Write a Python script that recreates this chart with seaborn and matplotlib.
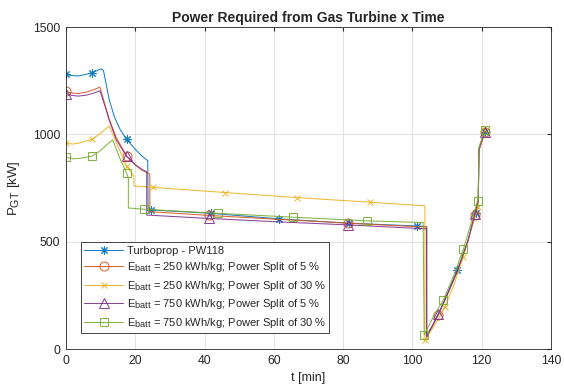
import numpy as np
import pandas as pd
import matplotlib
matplotlib.use("Agg")
import matplotlib.pyplot as plt
from matplotlib.lines import Line2D
import seaborn as sns

# pedici un po' piu' grandi, come in MATLAB
try:
    import matplotlib._mathtext as _mt
    _mt.SHRINK_FACTOR = 0.82
except Exception:
    pass

# --- DATI ---
# Turboprop - PW118
t_tp = [0, 1.5, 3.5, 5.5, 7.6, 9.0, 10.0, 10.8, 12.5, 14.0, 15.7, 17.5, 20.0, 22.0, 23.6, 23.7, 24.4,
        41.8, 61.6, 81.8, 101.2, 104.1, 104.1, 106, 108, 110, 113, 116, 118.3, 119.0, 119.2, 120.9]
p_tp = [1280, 1274, 1272, 1278, 1288, 1297, 1305, 1298, 1160, 1080, 1020, 977, 930, 898, 877, 652, 648,
        632, 606, 586, 573, 570, 65, 115, 180, 255, 368, 505, 634, 690, 930, 1012]
mk_tp = [0, 4, 11, 16, 17, 18, 19, 20, 26, 28, 31]

# E_batt = 250 kWh/kg, split 5 %
t_250_5 = [0, 1.5, 3.5, 6.0, 8.0, 9.8, 11.3, 12.5, 14.5, 17.5, 20.0, 22.0, 24.2, 24.2, 41.4, 61.6, 81.5,
           101.2, 104.1, 104.1, 107.5, 110, 113, 116, 118.0, 119.0, 119.2, 120.9]
p_250_5 = [1200, 1193, 1190, 1197, 1208, 1220, 1135, 1070, 985, 900, 858, 832, 815, 640, 622, 604, 586,
           570, 568, 58, 160, 250, 362, 500, 625, 688, 925, 1010]
mk_250_5 = [0, 9, 14, 16, 20, 24, 27]

# E_batt = 250 kWh/kg, split 30 %
t_250_30 = [0, 2.0, 4.0, 7.6, 10.0, 12.5, 13.5, 15.5, 17.5, 19.6, 19.6, 25.0, 45.9, 66.8, 87.7, 103.6,
            103.6, 107.5, 109.4, 112, 114.7, 117, 119.0, 119.2, 121.0]
p_250_30 = [958, 955, 960, 977, 1005, 1039, 1000, 925, 851, 806, 760, 753, 729, 705, 684, 667,
            40, 140, 197, 300, 430, 560, 660, 925, 1020]
mk_250_30 = [0, 3, 8, 11, 12, 13, 14, 16, 18, 20, 22, 24]

# E_batt = 750 kWh/kg, split 5 %
t_750_5 = [0, 1.5, 3.5, 6.0, 8.0, 9.8, 11.3, 12.5, 14.5, 17.5, 20.0, 22.0, 23.3, 23.3, 41.4, 61.6, 81.5,
           101.2, 104.1, 104.1, 107.5, 110, 113, 116, 118.0, 119.0, 119.2, 120.9]
p_750_5 = [1190, 1182, 1178, 1183, 1192, 1203, 1129, 1065, 975, 897, 858, 836, 826, 624, 608, 592, 578,
           562, 560, 55, 163, 252, 365, 502, 629, 690, 928, 1012]
mk_750_5 = [0, 9, 14, 16, 20, 24, 27]

# E_batt = 750 kWh/kg, split 30 %
t_750_30 = [0, 2.0, 4.0, 7.6, 10.0, 12.0, 13.5, 15.5, 17.5, 18.0, 18.0, 22.5, 44.0, 65.6, 87.0, 103.1,
            103.4, 106, 108.9, 112, 114.7, 117, 118.8, 119.0, 119.2, 120.9]
p_750_30 = [893, 886, 888, 899, 925, 955, 974, 890, 818, 797, 657, 651, 632, 614, 597, 589,
            65, 150, 228, 345, 464, 590, 691, 700, 940, 1020]
mk_750_30 = [0, 3, 8, 11, 12, 13, 14, 16, 18, 20, 22, 25]

labels = [
    "Turboprop - PW118",
    r"E$_{\rm batt}$ = 250 kWh/kg; Power Split of 5 %",
    r"E$_{\rm batt}$ = 250 kWh/kg; Power Split of 30 %",
    r"E$_{\rm batt}$ = 750 kWh/kg; Power Split of 5 %",
    r"E$_{\rm batt}$ = 750 kWh/kg; Power Split of 30 %",
]
x_ticks = [0, 20, 40, 60, 80, 100, 120, 140]
y_ticks = [0, 500, 1000, 1500]

# --- STILE ---
sns.set_style("whitegrid")
plt.rcParams["font.family"] = ["Liberation Sans", "DejaVu Sans"]
plt.rcParams["mathtext.fontset"] = "custom"
plt.rcParams["mathtext.rm"] = "Liberation Sans"
plt.rcParams["mathtext.it"] = "Liberation Sans:italic"

colors = ["#0072BD", "#D95319", "#EDB120", "#7E2F8E", "#77AC30"]
markers = [(8, 2, 0), "o", "x", "^", "s"]
msizes = [6, 6.5, 5, 6.5, 5.5]

series = [
    (t_tp, p_tp, mk_tp),
    (t_250_5, p_250_5, mk_250_5),
    (t_250_30, p_250_30, mk_250_30),
    (t_750_5, p_750_5, mk_750_5),
    (t_750_30, p_750_30, mk_750_30),
]

fig = plt.figure(figsize=(5.64, 3.88), dpi=100)
ax = fig.add_axes([66 / 564, 1 - 349 / 388, 485 / 564, 322 / 388])

handles = []
for i, (t, p, mk) in enumerate(series):
    df = pd.DataFrame({"t": t, "P": p})
    sns.lineplot(data=df, x="t", y="P", ax=ax, sort=False, estimator=None,
                 color=colors[i], linewidth=0.75, alpha=0.9, marker=markers[i], markevery=mk,
                 markersize=msizes[i], markerfacecolor="none", markeredgecolor=colors[i],
                 markeredgewidth=0.75)
    handles.append(Line2D([0], [0], color=colors[i], linewidth=0.75, alpha=0.9, marker=markers[i],
                          markersize=msizes[i], markerfacecolor="none",
                          markeredgecolor=colors[i], markeredgewidth=0.75))

ax.set_xlim(0, 140)
ax.set_ylim(0, 1500)
ax.set_xticks(x_ticks)
ax.set_yticks(y_ticks)
ax.tick_params(direction="in", length=3, labelsize=8.8, colors="#262626", pad=4,
               top=True, right=True, labeltop=False, labelright=False)
ax.grid(True, color="#e2e2e2", linewidth=0.7)
for s in ax.spines.values():
    s.set_color("#262626")
    s.set_linewidth(0.6)

ax.set_xlabel("t [min]", fontsize=9, color="#262626", labelpad=4)
ax.set_ylabel(r"P$_{\rm GT}$ [kW]", fontsize=9.5, color="#262626", labelpad=8)
ax.set_title("Power Required from Gas Turbine x Time", fontsize=10, fontweight="bold", pad=3.5)

leg = ax.legend(handles, labels, loc="lower left", bbox_to_anchor=(0.031, 0.05),
                borderaxespad=0, fontsize=8, handlelength=3.5, handletextpad=0.3,
                labelspacing=0.4, borderpad=0.3, frameon=True, fancybox=False,
                edgecolor="#262626", framealpha=1)
leg.get_frame().set_linewidth(0.6)

fig.savefig("out.png", dpi=100)
